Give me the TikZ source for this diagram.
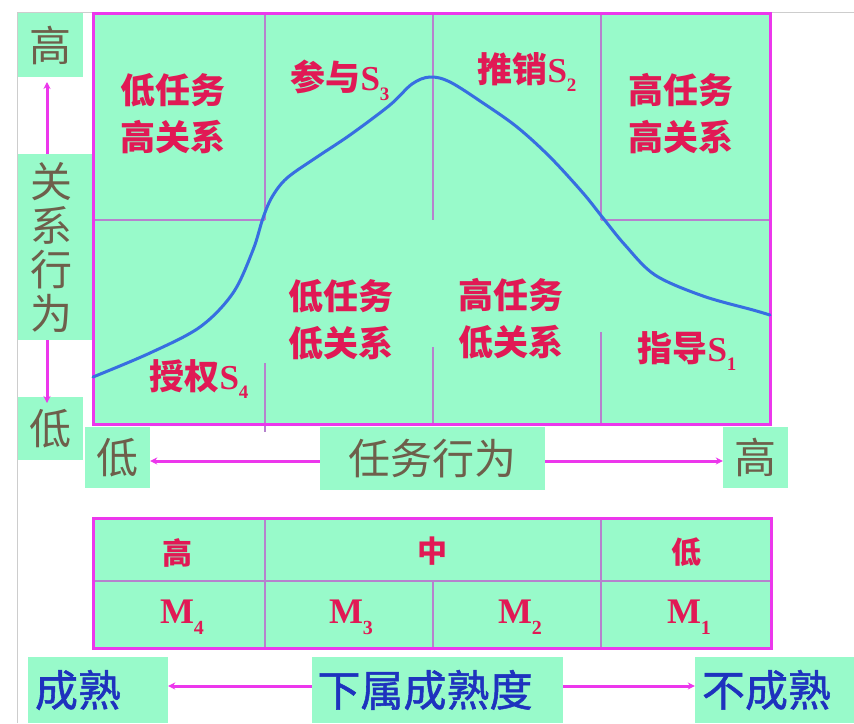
\documentclass[tikz,border=0pt]{standalone}
\usepackage{fontspec}
\newfontfamily\cjk{Noto Sans CJK SC}
\newfontfamily\cjkmed{Noto Sans CJK SC}[FakeBold=1.2]
\newfontfamily\latb{Liberation Serif Bold}
\usetikzlibrary{arrows.meta}
\definecolor{mint}{RGB}{152,250,202}
\definecolor{mag}{RGB}{236,55,236}
\definecolor{gridc}{RGB}{182,130,205}
\definecolor{redt}{RGB}{225,25,85}
\definecolor{grayt}{RGB}{110,95,75}
\definecolor{bluet}{RGB}{30,50,190}
\definecolor{curvec}{RGB}{55,110,225}
\definecolor{framec}{RGB}{205,205,205}
\newcommand{\Sx}[1]{{\latb\mdseries S}\raisebox{-0.28em}{\latb\mdseries\fontsize{19}{19}\selectfont #1}}
\newcommand{\Mx}[1]{{\latb\mdseries M}\raisebox{-0.3em}{\latb\mdseries\fontsize{20}{20}\selectfont #1}}
\tikzset{
  axlbl/.style={fill=mint, inner sep=0pt, text=grayt, font=\cjk\fontsize{42}{44}\selectfont},
  redlbl/.style={text=redt, inner sep=0pt, align=center, font=\cjk\bfseries\fontsize{35}{47}\selectfont},
  tablbl/.style={text=redt, inner sep=0pt, font=\cjk\bfseries\fontsize{30}{32}\selectfont},
  mlbl/.style={text=redt, inner sep=0pt, font=\latb\fontsize{36}{38}\selectfont},
  bluelbl/.style={fill=mint, inner sep=0pt, text=bluet, align=left, font=\cjkmed\fontsize{43}{45}\selectfont},
  axarrow/.style={draw=mag, line width=3pt, -{Stealth[length=7pt,width=7pt]}},
  gridline/.style={draw=gridc, line width=1.5pt},
  border/.style={draw=mag, line width=3pt}
}
\begin{document}
\begin{tikzpicture}[x=1pt,y=-1pt]
\useasboundingbox (0,0) rectangle (854,723);
\fill[white] (0,0) rectangle (854,723);
% outer frame
\draw[framec, line width=1pt] (17,723) -- (17,12) -- (854,12);

% main chart
\node[fill=mint, minimum width=677pt, minimum height=411pt, anchor=north west, inner sep=0pt, outer sep=0pt] (main) at (93,13) {};
\draw[gridline] (93,220) -- (265,220);
\draw[gridline] (601,220) -- (770,220);
\draw[gridline] (265,13) -- (265,220);
\draw[gridline] (433,13) -- (433,220);
\draw[gridline] (601,13) -- (601,220);
\draw[gridline] (265,363) -- (265,432);
\draw[gridline] (433,347) -- (433,424);
\draw[gridline] (601,332) -- (601,424);
\draw[border] (main.north west) rectangle (main.south east);
\draw[curvec, line width=3pt, line cap=round] plot[smooth, tension=0.55] coordinates {
 (93,377) (150,353) (200,327) (233,293) (253,250) (263,218) (272,197) (287,178) (317,157)
 (350,135) (390,105) (412,84) (430,77) (450,82) (483,103) (517,127) (550,157) (583,193)
 (603,218) (625,245) (655,275) (703,296) (753,310) (770,315)};

% cell labels
\node[redlbl] (q1) at (173,114) {低任务\\高关系};
\node[redlbl] (q2) at (681,114) {高任务\\高关系};
\node[redlbl] (q3) at (341,320) {低任务\\低关系};
\node[redlbl] (q4) at (511,319) {高任务\\低关系};
\node[redlbl] (s3) at (340,80) {参与\Sx{3}};
\node[redlbl] (s2) at (527,72) {推销\Sx{2}};
\node[redlbl] (s4) at (199,379) {授权\Sx{4}};
\node[redlbl] (s1) at (687,351) {指导\Sx{1}};

% vertical axis
\node[axlbl, minimum width=65pt, minimum height=64pt] (yhigh) at (50.5,45) {高};
\node[axlbl, minimum width=74pt, minimum height=186pt, align=center, font=\cjk\fontsize{42}{44}\selectfont] (yrel) at (55,247) {\hspace*{-6pt}关\\\hspace*{-6pt}系\\\hspace*{-6pt}行\\\hspace*{-6pt}为};
\node[axlbl, minimum width=65pt, minimum height=63pt] (ylow) at (50.5,428.5) {低};
\coordinate (ytop) at (47,82);
\coordinate (ybot) at (47,403);
\draw[axarrow] (yrel.north -| ytop) -- (ytop);
\draw[axarrow] (yrel.south -| ybot) -- (ybot);

% horizontal axis
\node[axlbl, minimum width=65pt, minimum height=61pt] (xlow) at (117.5,457.5) {低};
\node[axlbl, minimum width=225pt, minimum height=63pt] (xtask) at (432.5,458.5) {任务行为};
\node[axlbl, minimum width=65pt, minimum height=61pt] (xhigh) at (755.5,457.5) {高};
\draw[axarrow] (xtask.west |- 0,461) -- (xlow.east |- 0,461);
\draw[axarrow] (xtask.east |- 0,461) -- (xhigh.west |- 0,461);

% maturity table
\node[fill=mint, minimum width=678pt, minimum height=130pt, anchor=north west, inner sep=0pt, outer sep=0pt] (tab) at (93,518) {};
\draw[gridline] (93,581) -- (771,581);
\draw[gridline] (265,518) -- (265,648);
\draw[gridline] (601,518) -- (601,648);
\draw[gridline] (433,581) -- (433,648);
\draw[border] (tab.north west) rectangle (tab.south east);
\node[tablbl] (th) at (177,553) {高};
\node[tablbl] (tm) at (432,551) {中};
\node[tablbl] (tl) at (686,552) {低};
\node[mlbl] (m4) at (182,617) {\Mx{4}};
\node[mlbl] (m3) at (351,617) {\Mx{3}};
\node[mlbl] (m2) at (520,617) {\Mx{2}};
\node[mlbl] (m1) at (689,617) {\Mx{1}};

% maturity axis
\node[bluelbl, minimum width=140pt, minimum height=66pt, text width=126pt] (mat) at (98,690) {成熟};
\node[bluelbl, minimum width=251pt, minimum height=66pt, text width=240pt] (sub) at (437.5,690) {下属成熟度};
\node[bluelbl, minimum width=159pt, minimum height=66pt, text width=145pt] (imm) at (774.5,690) {不成熟};
\draw[axarrow] (sub.west |- 0,686) -- (mat.east |- 0,686);
\draw[axarrow] (sub.east |- 0,686) -- (imm.west |- 0,686);
\end{tikzpicture}
\end{document}
